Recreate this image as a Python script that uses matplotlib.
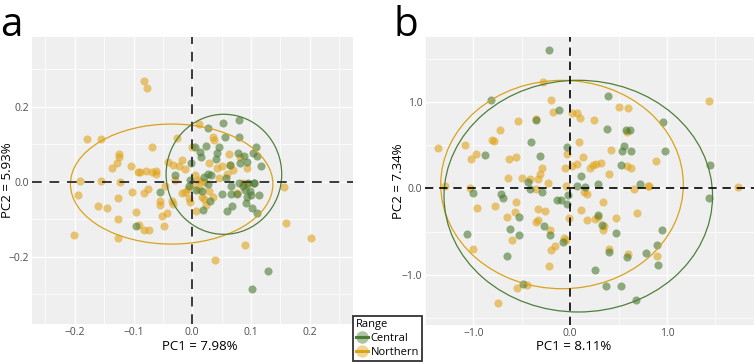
import matplotlib
matplotlib.use("Agg")
import matplotlib.pyplot as plt
from matplotlib.patches import Ellipse
from matplotlib.lines import Line2D
import numpy as np

plt.rcParams['font.family'] = ['Open Sans', 'DejaVu Sans']

# ---------------- data: panel a ----------------
a_north_x = [-0.082, -0.077, -0.180, -0.156, -0.068, -0.125, -0.125, -0.128, -0.137, -0.105,
             -0.093, -0.089, -0.078, -0.069, -0.061, -0.191, -0.155, -0.123, -0.195, -0.160,
             -0.146, -0.127, -0.102, -0.082, -0.075, -0.096, -0.127, -0.090, -0.082, -0.073,
             -0.126, -0.201, -0.055, -0.055, -0.048, -0.051, -0.043, -0.046, -0.041, -0.032,
             -0.023, -0.013, -0.018, -0.026, -0.034, -0.032, -0.018, -0.012, -0.003, -0.006,
             -0.001, 0.012, 0.013, 0.020, 0.007, 0.016, 0.020, 0.029, 0.029, 0.036,
             0.037, 0.042, 0.050, 0.063, 0.064, 0.070, 0.060, 0.082, 0.093, 0.086,
             0.093, 0.090, 0.039, 0.157, 0.159, 0.203, 0.002, 0.010, 0.036, 0.024,
             -0.030, -0.008, 0.004, -0.062, 0.046, 0.076, 0.012]
a_north_y = [0.269, 0.251, 0.113, 0.115, 0.092, 0.074, 0.065, 0.049, 0.036, 0.043,
             0.026, 0.026, 0.029, 0.026, 0.022, 0.001, 0.001, 0.000, -0.035, -0.064,
             -0.071, -0.042, -0.027, -0.029, -0.019, -0.081, -0.100, -0.114, -0.129, -0.128,
             -0.150, -0.143, -0.052, -0.061, -0.118, -0.092, -0.082, -0.010, 0.053, 0.044,
             0.042, 0.033, 0.058, 0.118, -0.050, -0.058, -0.031, -0.026, -0.055, -0.042,
             0.092, 0.153, 0.000, 0.000, -0.077, -0.040, -0.045, -0.024, 0.051, 0.120,
             0.111, 0.036, 0.043, 0.074, 0.045, 0.031, 0.020, 0.067, 0.038, -0.003,
             -0.006, -0.169, -0.209, -0.013, -0.111, -0.151, -0.006, 0.004, -0.040, -0.062,
             0.006, -0.020, 0.018, 0.028, 0.010, -0.030, -0.018]

a_central_x = [0.080, 0.052, 0.027, 0.056, 0.079, 0.005, 0.014, 0.024, 0.046, 0.015,
               0.043, 0.078, 0.088, 0.109, 0.104, 0.110, 0.117, 0.094, 0.081, 0.064,
               -0.002, -0.030, -0.004, 0.027, 0.032, 0.020, 0.066, 0.080, 0.087, 0.095,
               0.105, 0.090, 0.099, 0.066, 0.077, 0.050, 0.030, 0.016, 0.027, 0.007,
               0.105, 0.093, 0.101, 0.113, 0.092, 0.102, 0.110, 0.059, 0.068, 0.019,
               -0.055, -0.095, 0.130, 0.102, 0.058, 0.040, -0.006]
a_central_y = [0.164, 0.156, 0.143, 0.120, 0.120, 0.092, 0.080, 0.095, 0.092, 0.067,
               0.077, 0.076, 0.068, 0.093, 0.077, 0.068, 0.043, 0.053, 0.051, 0.044,
               0.049, 0.018, 0.004, 0.022, 0.019, 0.013, -0.010, -0.002, -0.010, -0.002,
               -0.002, -0.022, -0.025, -0.032, -0.033, -0.033, -0.050, -0.025, -0.005, -0.022,
               -0.002, -0.040, -0.034, -0.036, -0.056, -0.071, -0.083, -0.077, -0.065, -0.074,
               -0.028, -0.117, -0.237, -0.286, 0.010, 0.060, -0.012]

# ---------------- data: panel b ----------------
b_central_x = [-0.22, -0.82, -0.114, 0.393, 0.386, 0.617, 0.962, 0.983, 0.531, 0.555,
               0.634, 0.524, 1.445, -0.403, -0.314, -0.355, -0.883, -0.031, 0.114, 0.066,
               0.152, 0.286, 0.721, -1.003, -0.717, -0.693, -0.434, -0.410, -0.293, -0.021,
               -0.031, -0.141, -0.090, -0.528, -0.624, -0.528, -1.062, -0.648, -0.272, -0.210,
               -0.079, 0.286, 0.328, 0.479, 0.403, 0.583, 0.783, 0.893, 0.952, 0.903,
               0.255, 0.369, 0.528, 0.679, -0.486, 1.438, 0.581]
b_central_y = [1.595, 1.025, 0.902, 1.064, 0.690, 0.671, 0.767, 0.432, 0.432, 0.489,
               0.432, 0.266, 0.274, 0.536, 0.374, 0.786, 0.381, 0.478, 0.143, 0.027,
               0.015, 0.046, 0.046, -0.050, -0.062, -0.108, 0.073, -0.012, -0.042, -0.081,
               -0.185, -0.131, -0.139, -0.331, -0.466, -0.543, -0.524, -0.778, -0.439, -0.543,
               -0.620, -0.312, -0.428, -0.513, -0.736, -0.794, -0.744, -0.659, -0.478, -0.890,
               -0.940, -1.133, -1.133, -1.287, -1.102, -0.116, 0.672]

b_north_x = [-0.279, -0.193, -0.176, 0.024, 0.066, 0.100, 0.245, 0.510, 0.597, 1.431,
             -0.538, -0.348, -0.721, -0.803, -0.790, -1.090, -1.362, -0.976, -1.021, -0.631,
             -0.562, -0.641, -0.493, -0.417, -0.286, -0.307, -0.331, -0.228, -0.052, 0.024,
             0.066, -0.031, 0.128, 0.093, 0.203, 0.238, 0.272, 0.324, 0.403, 0.421,
             0.590, 0.583, 0.634, 0.886, 0.662, 0.800, 0.817, 1.738, -1.290, -1.038,
             -0.962, -0.779, -0.652, -0.555, -0.569, -0.597, -1.003, -0.348, -0.334, -0.262,
             -0.355, -0.331, -0.210, -0.193, -0.159, -0.066, -0.045, -0.221, -0.017, -0.038,
             0.169, 0.141, 0.107, 0.341, 0.179, 0.255, 0.290, 0.341, 0.348, 0.472,
             0.693, 0.403, 0.593, 0.893, -0.441, -0.548, -0.748]
b_north_y = [1.229, 1.017, 0.882, 0.875, 0.875, 0.817, 0.794, 0.940, 0.933, 1.010,
             0.778, 0.805, 0.678, 0.563, 0.547, 0.497, 0.466, 0.401, 0.335, 0.343,
             0.362, 0.123, 0.123, 0.104, 0.239, 0.170, 0.112, 0.062, 0.239, 0.254,
             0.277, 0.401, 0.362, 0.536, 0.235, 0.266, 0.285, 0.293, 0.170, 0.439,
             0.651, 0.254, 0.239, 0.316, -0.012, 0.023, 0.023, 0.015, 0.023, 0.008,
             -0.224, -0.208, -0.331, -0.158, -0.274, -0.593, -0.697, -0.004, -0.235, -0.262,
             -0.389, -0.362, -0.486, -0.709, -0.671, -0.574, -0.601, -0.902, -0.339, 0.031,
             -0.062, -0.042, -0.247, -0.158, -0.370, -0.351, -0.331, -0.478, -0.439, -0.339,
             -0.285, -0.697, -0.755, -0.786, -1.114, -1.148, -1.326]

# ellipse summaries: (center x, center y, width, height)
a_north_ell = (-0.035, -0.006, 0.345, 0.320)
a_central_ell = (0.054, 0.020, 0.197, 0.320)
b_north_ell = (-0.084, 0.044, 2.507, 2.409)
b_central_ell = (0.084, -0.090, 2.775, 2.679)

groups = ["Central", "Northern"]
pt_colors = {"Central": "#4a7a30", "Northern": "#e0a31a"}
ell_colors = {"Central": "#4f7f3a", "Northern": "#d9a21b"}

W, H = 754, 362
fig = plt.figure(figsize=(W / 100, H / 100), dpi=100)


def fx(px):
    return px / W


def fy(py):
    return 1 - py / H


def style_axes(ax):
    ax.set_facecolor("#efefef")
    for s in ax.spines.values():
        s.set_visible(False)
    ax.grid(True, which="major", color="white", lw=0.9)
    ax.grid(True, which="minor", color="white", lw=0.5)
    ax.set_axisbelow(True)
    ax.tick_params(which="both", length=0, labelsize=7.5, labelcolor="#4d4d4d", pad=2)


# panel a
axa = fig.add_axes([fx(32), fy(324), fx(353) - fx(32), fy(37) - fy(324)])
style_axes(axa)
axa.scatter(a_north_x, a_north_y, s=34, color=pt_colors["Northern"], alpha=0.6, lw=0, zorder=3)
axa.scatter(a_central_x, a_central_y, s=34, color=pt_colors["Central"], alpha=0.6, lw=0, zorder=3)
for g, e in (("Northern", a_north_ell), ("Central", a_central_ell)):
    axa.add_patch(Ellipse((e[0], e[1]), e[2], e[3], fill=False, ec=ell_colors[g], lw=0.9, zorder=4))
axa.axhline(0, color="#3a3a3a", ls=(0, (5, 4)), lw=1.4, zorder=5)
axa.axvline(0, color="#3a3a3a", ls=(0, (5, 4)), lw=1.4, zorder=5)
axa.set_xlim(-0.273, 0.274)
axa.set_ylim(-0.379, 0.386)
axa.set_xticks([-0.2, -0.1, 0.0, 0.1, 0.2])
axa.set_xticklabels(["\u22120.2", "\u22120.1", "0.0", "0.1", "0.2"])
axa.set_xticks([-0.25, -0.15, -0.05, 0.05, 0.15, 0.25], minor=True)
axa.set_yticks([-0.2, 0.0, 0.2])
axa.set_yticklabels(["\u22120.2", "0.0", "0.2"])
axa.set_yticks([-0.3, -0.1, 0.1, 0.3], minor=True)

# panel b
axb = fig.add_axes([fx(425), fy(325), fx(754) - fx(425), fy(37) - fy(325)])
style_axes(axb)
axb.scatter(b_north_x, b_north_y, s=34, color=pt_colors["Northern"], alpha=0.6, lw=0, zorder=3)
axb.scatter(b_central_x, b_central_y, s=34, color=pt_colors["Central"], alpha=0.6, lw=0, zorder=3)
for g, e in (("Northern", b_north_ell), ("Central", b_central_ell)):
    axb.add_patch(Ellipse((e[0], e[1]), e[2], e[3], fill=False, ec=ell_colors[g], lw=0.9, zorder=4))
axb.axhline(0, color="black", ls=(0, (5, 3.5)), lw=1.2, zorder=5)
axb.axvline(0, color="black", ls=(0, (5, 3.5)), lw=1.2, zorder=5)
axb.set_xlim(-1.50, 1.90)
axb.set_ylim(-1.58, 1.75)
axb.set_xticks([-1.0, 0.0, 1.0])
axb.set_xticklabels(["\u22121.0", "0.0", "1.0"])
axb.set_xticks([-1.5, -0.5, 0.5, 1.5], minor=True)
axb.set_yticks([-1.0, 0.0, 1.0])
axb.set_yticklabels(["\u22121.0", "0.0", "1.0"])
axb.set_yticks([-1.5, -0.5, 0.5, 1.5], minor=True)

# axis titles
fig.text(fx(200), fy(346), "PC1 = 7.98%", ha="center", va="center", fontsize=9.5)
fig.text(fx(8), fy(180), "PC2 = 5.93%", ha="center", va="center", rotation=90, fontsize=9.5)
fig.text(fx(574), fy(346), "PC1 = 8.11%", ha="center", va="center", fontsize=9.5)
fig.text(fx(398), fy(181), "PC2 = 7.34%", ha="center", va="center", rotation=90, fontsize=9.5)

# panel letters
fig.text(fx(0), fy(36), "a", ha="left", va="baseline", fontsize=29)
fig.text(fx(393), fy(36), "b", ha="left", va="baseline", fontsize=29)

# legend
handles = []
for g in groups:
    handles.append(Line2D([], [], color=ell_colors[g], lw=2.2, marker="o", markersize=9,
                          markerfacecolor=matplotlib.colors.to_rgba(pt_colors[g], 0.45),
                          markeredgewidth=0))
leg = fig.legend(handles, groups, title="Range", loc="lower left",
                 bbox_to_anchor=(fx(353), fy(361)), borderaxespad=0, fontsize=8,
                 title_fontsize=8, frameon=True, fancybox=False, edgecolor="black",
                 handlelength=1.1, handletextpad=0.25, labelspacing=0.3, borderpad=0.25,
                 alignment="left")
leg.get_frame().set_linewidth(1.3)

fig.savefig("out.png", dpi=100)
